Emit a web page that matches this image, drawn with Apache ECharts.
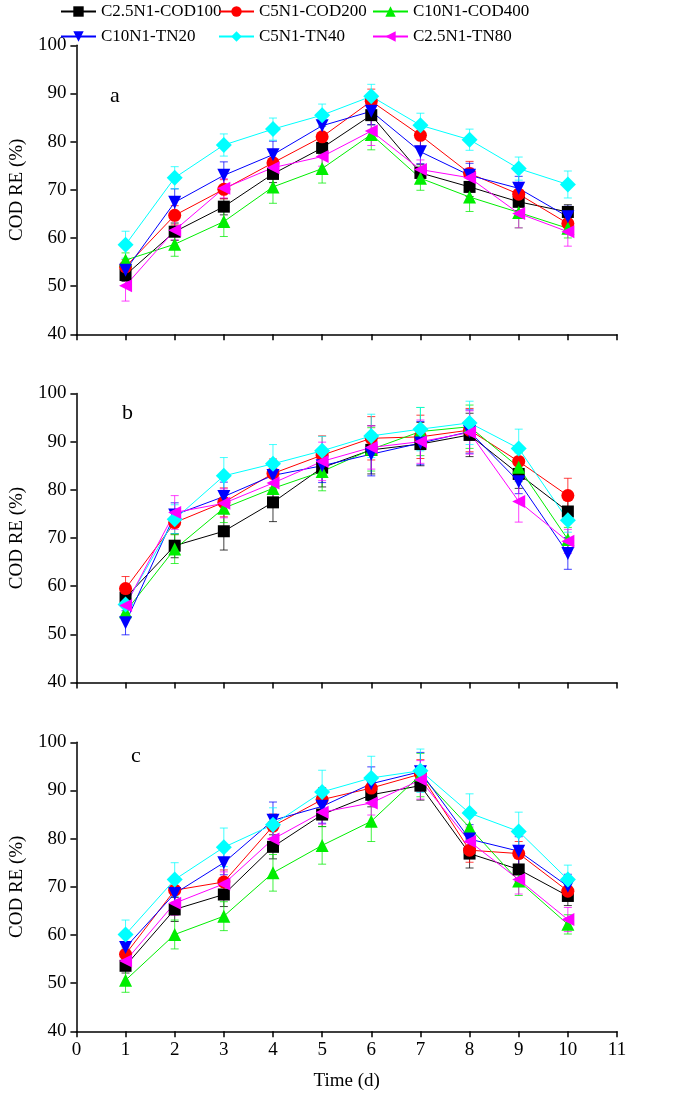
<!DOCTYPE html>
<html><head><meta charset="utf-8">
<script src="https://cdn.jsdelivr.net/npm/echarts@6/dist/echarts.min.js"></script>
<style>html,body{margin:0;padding:0;background:#fff}#c{width:685px;height:1105px}</style>
</head><body><div id="c"></div>
<script>
const days = [1,2,3,4,5,6,7,8,9,10];
const xTicks = [0,1,2,3,4,5,6,7,8,9,10,11];
const yTicks = [40,50,60,70,80,90,100];
const seriesNames = ['C2.5N1-COD100','C5N1-COD200','C10N1-COD400','C10N1-TN20','C5N1-TN40','C2.5N1-TN80'];
const panelLabels = ['a','b','c'];

// Panel a values
const a_C25COD100 = [52.3,61.3,66.5,73.3,78.7,85.5,73.5,70.6,67.5,65.4];
const a_C5COD200  = [54.0,64.7,70.1,75.6,81.0,88.4,81.3,73.4,69.1,63.0];
const a_C10COD400 = [55.4,58.7,63.4,70.6,74.4,81.5,72.4,68.5,65.3,62.0];
const a_C10TN20   = [53.3,67.4,73.0,77.3,83.3,86.3,77.9,73.0,70.3,64.4];
const a_C5TN40    = [58.6,72.5,79.3,82.6,85.5,89.4,83.4,80.4,74.4,71.1];
const a_C25TN80   = [50.1,61.6,70.3,74.6,76.9,82.2,74.2,72.5,65.1,61.3];
// Panel a errors
const a_C25COD100_err = [1.3,1.8,1.7,1.8,1.8,2.0,1.8,2.0,1.8,1.5];
const a_C5COD200_err  = [1.5,2.0,2.0,2.8,2.2,2.5,2.2,2.5,2.2,2.0];
const a_C10COD400_err = [1.5,2.5,3.1,3.4,3.0,3.2,2.5,3.0,3.2,2.0];
const a_C10TN20_err   = [1.5,2.8,2.8,2.8,2.5,2.8,2.5,2.5,2.5,2.2];
const a_C5TN40_err    = [2.8,2.3,2.3,2.3,2.3,2.5,2.5,2.2,2.4,2.8];
const a_C25TN80_err   = [3.2,2.0,2.0,2.0,2.0,3.0,2.0,2.0,3.0,3.0];

// Panel b values
const b_C25COD100 = [57.6,68.4,71.4,77.4,84.6,88.3,89.5,91.4,83.3,75.5];
const b_C5COD200  = [59.5,73.2,77.4,83.4,87.2,90.7,91.0,92.4,85.9,78.8];
const b_C10COD400 = [54.7,67.7,76.2,80.3,83.8,88.4,92.1,93.1,84.7,69.7];
const b_C10TN20   = [52.4,74.8,78.6,83.0,85.0,87.4,89.7,92.1,81.7,66.8];
const b_C5TN40    = [56.2,73.9,82.9,85.4,88.1,91.2,92.6,93.9,88.6,73.7];
const b_C25TN80   = [56.0,75.3,77.2,81.4,85.9,88.8,90.0,91.9,77.6,69.3];
// Panel b errors
const b_C25COD100_err = [1.5,2.5,3.9,4.0,4.0,5.0,4.5,4.5,3.0,2.5];
const b_C5COD200_err  = [2.5,2.5,3.0,3.0,4.0,4.5,4.5,4.5,2.5,3.6];
const b_C10COD400_err = [1.5,3.0,3.0,3.2,4.0,4.5,5.0,4.5,3.0,2.5];
const b_C10TN20_err   = [2.5,2.5,3.0,3.0,3.5,4.5,4.5,4.5,2.5,3.3];
const b_C5TN40_err    = [2.0,3.0,3.8,4.0,3.0,4.5,4.5,4.5,4.0,2.5];
const b_C25TN80_err   = [2.0,3.5,3.0,3.5,4.0,4.5,4.5,4.5,4.3,2.5];

// Panel c values
const c_C25COD100 = [53.6,65.3,68.4,78.3,85.0,89.1,91.0,76.9,73.6,68.1];
const c_C5COD200  = [56.0,69.3,71.0,82.6,88.1,90.5,93.4,77.6,76.9,69.1];
const c_C10COD400 = [50.6,60.1,63.9,72.9,78.6,83.6,93.2,82.3,71.2,62.2];
const c_C10TN20   = [57.4,68.6,75.0,83.8,86.7,91.4,93.9,79.9,77.4,70.1];
const c_C5TN40    = [60.1,71.5,78.2,82.9,89.7,92.6,94.1,85.3,81.5,71.5];
const c_C25TN80   = [54.6,66.6,70.6,79.9,85.5,87.4,92.2,79.4,71.5,63.2];
// Panel c errors
const c_C25COD100_err = [1.5,2.5,2.5,2.5,2.5,2.5,3.0,3.0,2.5,2.0];
const c_C5COD200_err  = [1.5,2.5,2.5,2.5,2.5,2.5,3.0,2.5,2.5,2.0];
const c_C10COD400_err = [2.5,3.0,3.0,3.8,3.9,4.2,4.5,3.0,3.0,2.0];
const c_C10TN20_err   = [2.5,2.5,2.5,3.8,3.5,3.5,4.0,3.0,3.0,2.5];
const c_C5TN40_err    = [3.0,3.5,4.0,3.5,4.5,4.5,4.5,4.0,4.0,3.0];
const c_C25TN80_err   = [2.0,2.5,2.5,2.5,2.5,2.5,4.0,3.0,3.0,2.5];

const panels = [
  {vals:[a_C25COD100,a_C5COD200,a_C10COD400,a_C10TN20,a_C5TN40,a_C25TN80],
   errs:[a_C25COD100_err,a_C5COD200_err,a_C10COD400_err,a_C10TN20_err,a_C5TN40_err,a_C25TN80_err]},
  {vals:[b_C25COD100,b_C5COD200,b_C10COD400,b_C10TN20,b_C5TN40,b_C25TN80],
   errs:[b_C25COD100_err,b_C5COD200_err,b_C10COD400_err,b_C10TN20_err,b_C5TN40_err,b_C25TN80_err]},
  {vals:[c_C25COD100,c_C5COD200,c_C10COD400,c_C10TN20,c_C5TN40,c_C25TN80],
   errs:[c_C25COD100_err,c_C5COD200_err,c_C10COD400_err,c_C10TN20_err,c_C5TN40_err,c_C25TN80_err]}
];

const colors  = ['#000000','#ff0000','#00ee00','#0000ff','#00ffff','#ff00ff'];
const symbols = ['rect','circle','triangle','triangle','diamond','triangle'];
const symRot  = [0,0,0,180,0,90];
const symSize = [12,13,13,13,16,13];

const FONT = '"Liberation Serif","Times New Roman",serif';
const gridTops = [45.3, 393.5, 742.3];
const gridH = 289;

const grids = [], xAxes = [], yAxes = [], series = [];
gridTops.forEach((t, p) => {
  grids.push({left:76, top:t, width:541, height:gridH});
  xAxes.push({
    type:'value', gridIndex:p, min:0, max:11, interval:1,
    axisLine:{lineStyle:{color:'#000', width:1.5}},
    axisTick:{show:true, inside:false, length:6, lineStyle:{color:'#000', width:1.5}},
    axisLabel:{show:p===2, color:'#000', fontFamily:FONT, fontSize:19, margin:9},
    splitLine:{show:false},
    name: p===2 ? 'Time (d)' : '', nameLocation:'middle', nameGap:40,
    nameTextStyle:{color:'#000', fontFamily:FONT, fontSize:19}
  });
  yAxes.push({
    type:'value', gridIndex:p, min:40, max:100, interval:10,
    axisLine:{show:true, lineStyle:{color:'#000', width:1.5}},
    axisTick:{show:true, inside:false, length:6, lineStyle:{color:'#000', width:1.5}},
    axisLabel:{color:'#000', fontFamily:FONT, fontSize:19, margin:10},
    splitLine:{show:false},
    name:'COD RE (%)', nameLocation:'middle', nameGap:44,
    nameTextStyle:{color:'#000', fontFamily:FONT, fontSize:19}
  });
  panels[p].vals.forEach((vals, s) => {
    const errs = panels[p].errs[s];
    series.push({
      type:'custom', xAxisIndex:p, yAxisIndex:p, z:2,
      data: days.map((d,i)=>[d, vals[i], errs[i]]),
      encode:{x:0, y:1},
      renderItem:(params, api) => {
        const x = api.value(0), y = api.value(1), e = api.value(2);
        const hi = api.coord([x, y+e]), lo = api.coord([x, y-e]);
        const w = 4;
        const st = {stroke:colors[s], lineWidth:1, opacity:0.75};
        return {type:'group', children:[
          {type:'line', shape:{x1:hi[0],y1:hi[1],x2:lo[0],y2:lo[1]}, style:st},
          {type:'line', shape:{x1:hi[0]-w,y1:hi[1],x2:hi[0]+w,y2:hi[1]}, style:st},
          {type:'line', shape:{x1:lo[0]-w,y1:lo[1],x2:lo[0]+w,y2:lo[1]}, style:st}
        ]};
      },
      silent:true, animation:false
    });
  });
  panels[p].vals.forEach((vals, s) => {
    series.push({
      name: seriesNames[s], type:'line', xAxisIndex:p, yAxisIndex:p, z:3,
      data: days.map((d,i)=>[d, vals[i]]),
      symbol: symbols[s], symbolSize: symSize[s], symbolRotate: symRot[s],
      lineStyle:{color:colors[s], width:1},
      itemStyle:{color:colors[s]},
      animation:false
    });
  });
});

const legendPos = [[60,3],[218,3],[372,3],[60,28],[218,28],[372,28]];
const legends = seriesNames.map((n,i)=>({
  data:[n], left:legendPos[i][0], top:legendPos[i][1], padding:0,
  itemWidth:35, itemHeight:13, itemGap:4,
  textStyle:{color:'#000', fontFamily:FONT, fontSize:17, padding:[0,0,0,0]}
}));

const labelPos = [[110,85],[122,402],[131,745]];
const graphics = panelLabels.map((l,i)=>({
  type:'text', left:labelPos[i][0], top:labelPos[i][1],
  style:{text:l, fill:'#000', font:'22px '+FONT}
}));

const chart = echarts.init(document.getElementById('c'), null, {renderer:'canvas'});
chart.setOption({
  backgroundColor:'#fff',
  animation:false,
  grid:grids, xAxis:xAxes, yAxis:yAxes,
  legend:legends, series:series, graphic:graphics
});
</script></body></html>
